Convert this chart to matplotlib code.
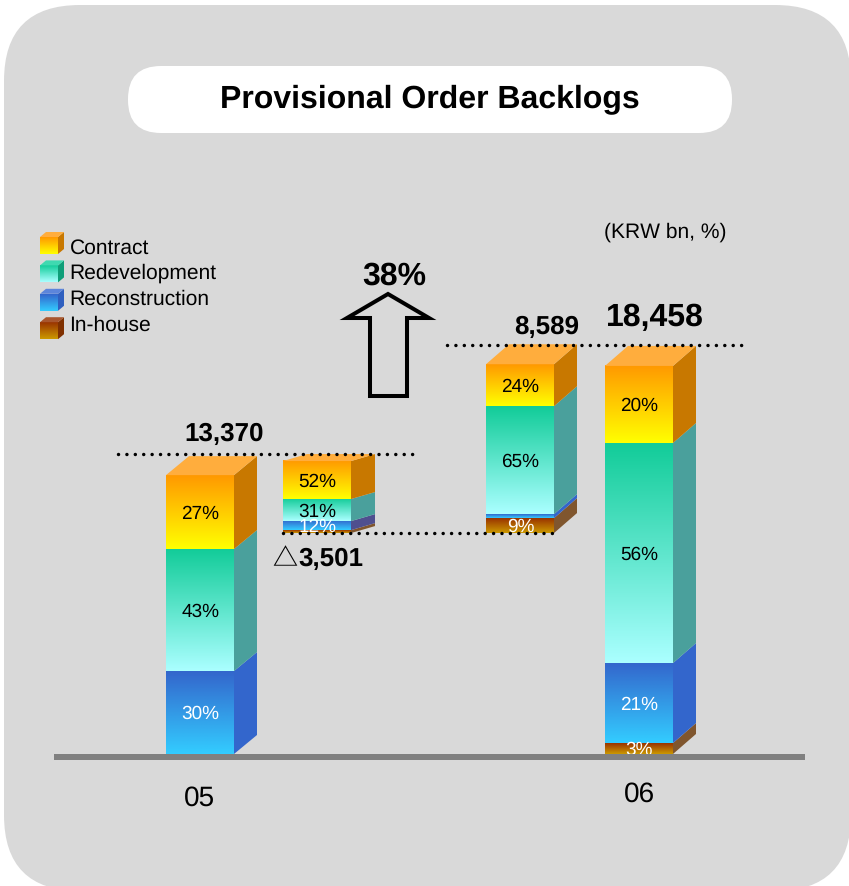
import numpy as np
import matplotlib
matplotlib.use("Agg")
import matplotlib.pyplot as plt
from matplotlib.patches import FancyBboxPatch, Polygon

plt.rcParams["font.family"] = ["Liberation Sans", "DejaVu Sans"]
plt.rcParams["text.hinting"] = "no_hinting"
plt.rcParams["text.hinting_factor"] = 1

# --- data (KRW bn), bottom segment first ---
categories = ["05", "06"]
totals = ["13,370", "3,501", "8,589", "18,458"]
in_house = [0, 140, 710, 520]
reconstruction = [3950, 430, 190, 3810]
redevelopment = [5810, 1050, 5140, 10480]
contract = [3520, 1810, 2000, 3670]
bar_base = [0, 10520, 10520, 0]

pct_in_house = ["", "", "9%", "3%"]
pct_reconstruction = ["30%", "12%", "", "21%"]
pct_redevelopment = ["43%", "31%", "65%", "56%"]
pct_contract = ["27%", "52%", "24%", "20%"]

legend_labels = ["Contract", "Redevelopment", "Reconstruction", "In-house"]

# --- style ---
W, H = 849, 887
BASE_PX = 754
PX_PER_BN = 0.021
bar_left = [166, 283, 486, 605]
bar_width = 68
depth_x = [23, 24, 23, 23]
depth_y = [19, 7, 20, 20]

grads = {
    "contract": ("#FF9900", "#FFFF00"),
    "redevelopment": ("#12CC99", "#AAFFFF"),
    "reconstruction": ("#3366CC", "#33CCFF"),
    "in_house": ("#993300", "#CC9900"),
}
sides = {
    "contract": "#C87800",
    "redevelopment": "#4AA09C",
    "reconstruction": "#3366CC",
    "in_house": "#80562E",
}
text_colors = {"contract": "black", "redevelopment": "black",
               "reconstruction": "white", "in_house": "white"}


def y_px(value):
    return BASE_PX - value * PX_PER_BN


def gradient(ax, x0, x1, y0, y1, colors, z=3):
    c0 = np.array(matplotlib.colors.to_rgb(colors[0]))
    c1 = np.array(matplotlib.colors.to_rgb(colors[1]))
    t = np.linspace(0, 1, 64)[:, None, None]
    img = c0[None, None, :] * (1 - t) + c1[None, None, :] * t
    ax.imshow(img, extent=(x0, x1, y1, y0), aspect="auto", zorder=z,
              interpolation="bilinear")


fig = plt.figure(figsize=(W / 100, H / 100), dpi=100, facecolor="white")
ax = fig.add_axes([0, 0, 1, 1])

# --- panel, title pill ---
r = 76
ax.add_patch(FancyBboxPatch((4 + r, 5 + r), 851 - 4 - 2 * r, 891 - 5 - 2 * r,
                            boxstyle=f"round,pad={r},rounding_size={r}",
                            fc="#D9D9D9", ec="none", zorder=0))
ax.add_patch(FancyBboxPatch((128 + 33, 66 + 33), 604 - 66, 67 - 66,
                            boxstyle="round,pad=33,rounding_size=33",
                            fc="white", ec="none", zorder=1))
ax.text(429.5, 98, "Provisional Order Backlogs", fontsize=23, fontweight="bold",
        ha="center", va="center", zorder=5)

# --- stacked bars ---
names = ["in_house", "reconstruction", "redevelopment", "contract"]
series = [in_house, reconstruction, redevelopment, contract]
pcts = [pct_in_house, pct_reconstruction, pct_redevelopment, pct_contract]

for i, left in enumerate(bar_left):
    bottom = bar_base[i]
    dx, dy = depth_x[i], depth_y[i]
    for name, vals, labels in zip(names, series, pcts):
        v = vals[i]
        y0 = y_px(bottom + v)
        y1 = y_px(bottom)
        gradient(ax, left, left + bar_width, y0, y1, grads[name])
        side = sides[name]
        if i == 1 and name == "reconstruction":
            side = "#4F4F8F"
        ax.add_patch(Polygon([(left + bar_width, y1), (left + bar_width + dx, y1 - dy),
                              (left + bar_width + dx, y0 - dy), (left + bar_width, y0)],
                             fc=side, ec="none", zorder=3))
        if labels[i]:
            ax.text(left + bar_width / 2 + 0.5, (y0 + y1) / 2 + 0.5, labels[i], fontsize=13.8,
                    color=text_colors[name], ha="center", va="center", zorder=4)
        bottom += v
    top = y_px(bottom)
    ax.add_patch(Polygon([(left, top), (left + dx, top - dy),
                          (left + bar_width + dx, top - dy), (left + bar_width, top)],
                         fc="#FFAD3D", ec="none", zorder=3))

# --- baseline and category labels ---
ax.fill_between([54, 805], 754, 760, color="#808080", lw=0, zorder=6)
ax.text(199, 797, categories[0], fontsize=20.5, ha="center", va="center", zorder=5)
ax.text(639.5, 793, categories[1], fontsize=20.5, ha="center", va="center", zorder=5)

# --- dotted guides ---
for x0, x1, yy in [(118, 418, 453.5), (283, 555, 533), (447, 749, 344.5)]:
    ax.plot([x0, x1], [yy, yy], color="black", lw=2.5,
            linestyle=(0, (0.01, 2.41)), dash_capstyle="round", zorder=7)

# --- totals ---
ax.text(224.5, 433, totals[0], fontsize=19, fontweight="bold", ha="center", va="center", zorder=8)
ax.text(546.5, 326, totals[2], fontsize=19, fontweight="bold", ha="center", va="center", zorder=8)
ax.text(655, 317, totals[3], fontsize=23, fontweight="bold", ha="center", va="center", zorder=8)
ax.text(284.5, 558, "\u25b3", fontsize=18, family=["Noto Sans CJK KR"], ha="center", va="center", zorder=8)
ax.text(298, 558, totals[1], fontsize=18.5, fontweight="bold", ha="left", va="center", zorder=8)

# --- growth arrow ---
ax.text(394.5, 275.5, "38%", fontsize=23, fontweight="bold", ha="center", va="center", zorder=8)
ax.add_patch(Polygon([(388, 294), (429, 318), (407, 318), (407, 396),
                      (370, 396), (370, 318), (347, 318)],
                     closed=True, fc="none", ec="black", lw=2.9, joinstyle="miter", zorder=8))

ax.text(665, 231, "(KRW bn, %)", fontsize=15.1, ha="center", va="center", zorder=8)

# --- legend ---
legend_keys = ["contract", "redevelopment", "reconstruction", "in_house"]
legend_sides = ["#C87800", "#0F9E78", "#2F5FBF", "#7F3000"]
legend_tops = ["#FFAD3D", "#3FD9B0", "#5C85DB", "#A8562E"]
for k, (label, key) in enumerate(zip(legend_labels, legend_keys)):
    y0 = 237 + k * 28.4
    y1 = y0 + 17
    gradient(ax, 40, 58, y0, y1, grads[key])
    ax.add_patch(Polygon([(58, y1), (64, y1 - 5), (64, y0 - 5), (58, y0)],
                         fc=legend_sides[k], ec="none", zorder=3))
    ax.add_patch(Polygon([(40, y0), (46, y0 - 5), (64, y0 - 5), (58, y0)],
                         fc=legend_tops[k], ec="none", zorder=3))
    ax.text(69.5, 247 + k * 25.7, label, fontsize=15.4, ha="left", va="center", zorder=5)

# everything above was placed in reference pixels, one row down from matplotlib's
ax.set_xlim(0, W)
ax.set_ylim(H - 1, -1)
ax.axis("off")

fig.savefig("out.png", dpi=100)
